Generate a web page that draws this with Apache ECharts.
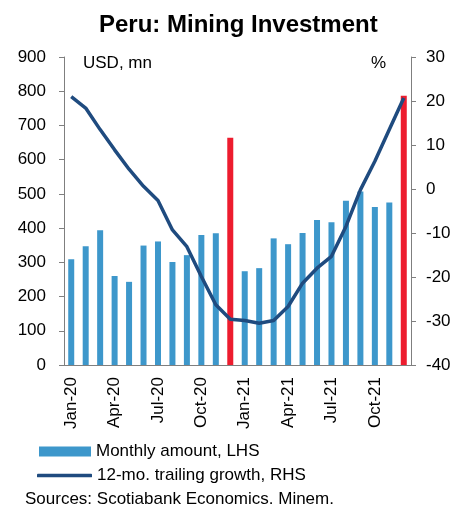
<!DOCTYPE html>
<html>
<head>
<meta charset="utf-8">
<style>
  html, body { margin: 0; padding: 0; background: #fff; }
  #chart { width: 456px; height: 506px; }
</style>
<script src="https://cdn.jsdelivr.net/npm/echarts@6/dist/echarts.min.js"></script>
</head>
<body>
<div id="chart"></div>
<script>
const months = ['Jan-20', 'Feb-20', 'Mar-20', 'Apr-20', 'May-20', 'Jun-20', 'Jul-20', 'Aug-20', 'Sep-20', 'Oct-20', 'Nov-20', 'Dec-20',
  'Jan-21', 'Feb-21', 'Mar-21', 'Apr-21', 'May-21', 'Jun-21', 'Jul-21', 'Aug-21', 'Sep-21', 'Oct-21', 'Nov-21', 'Dec-21']
const amount = [309, 347, 394, 260, 243, 349, 361, 301, 321, 380, 385, 664,
  274, 283, 370, 353, 386, 424, 417, 480, 507, 462, 475, 787]
const growth = [21.0, 18.4, 13.5, 8.9, 4.5, 0.6, -2.6, -9.3, -13.1, -19.9, -26.3, -29.6,
  -29.9, -30.5, -29.9, -26.7, -21.4, -18.0, -15.3, -8.5, -0.2, 6.3, 13.5, 20.7]
const highlight = ['Dec-20', 'Dec-21']

const font = 'Liberation Sans, Arial, sans-serif'
const blue = '#3d97cb'
const red = '#ed1c2e'
const navy = '#1f4b7f'
const axisGray = '#7f7f7f'

const chart = echarts.init(document.getElementById('chart'))

const legendText = { fontSize: 17, color: '#000', fontFamily: font }

chart.setOption({
  animation: false,
  textStyle: { fontFamily: font },
  title: {
    text: 'Peru: Mining Investment',
    left: 99,
    top: 13,
    padding: 0,
    textStyle: { fontSize: 24, fontWeight: 'bold', color: '#000', fontFamily: font }
  },
  grid: { left: 64, right: 45, top: 57, bottom: 141 },
  legend: [
    {
      left: 39,
      top: 443,
      itemWidth: 52,
      itemHeight: 10,
      padding: 0,
      textStyle: legendText,
      data: [{ name: 'Monthly amount, LHS', icon: 'rect', itemStyle: { color: blue } }]
    },
    {
      left: 37,
      top: 467,
      itemWidth: 55,
      itemHeight: 3.5,
      padding: 0,
      textStyle: legendText,
      data: [{ name: '12-mo. trailing growth, RHS', icon: 'roundRect', itemStyle: { color: navy } }]
    }
  ],
  graphic: [
    { type: 'text', left: 83, top: 55, style: { text: 'USD, mn', fontSize: 17, fill: '#000', fontFamily: font } },
    { type: 'text', left: 371, top: 55, style: { text: '%', fontSize: 17, fill: '#000', fontFamily: font } },
    { type: 'text', left: 25, top: 491, style: { text: 'Sources: Scotiabank Economics. Minem.', fontSize: 17, fill: '#000', fontFamily: font } }
  ],
  xAxis: {
    type: 'category',
    data: months,
    axisLine: { lineStyle: { color: axisGray, width: 1 } },
    axisTick: { interval: 2, length: 5, lineStyle: { color: axisGray } },
    axisLabel: { interval: 2, rotate: 90, fontSize: 17, color: '#000', margin: 12, fontFamily: font }
  },
  yAxis: [
    {
      type: 'value',
      min: 0,
      max: 900,
      interval: 100,
      splitLine: { show: false },
      axisLine: { show: true, lineStyle: { color: axisGray } },
      axisTick: { show: true, length: 5, lineStyle: { color: axisGray } },
      axisLabel: { fontSize: 17, color: '#000', margin: 18, fontFamily: font }
    },
    {
      type: 'value',
      min: -40,
      max: 30,
      interval: 10,
      splitLine: { show: false },
      axisLine: { show: true, lineStyle: { color: axisGray } },
      axisTick: { show: true, length: 5, lineStyle: { color: axisGray } },
      axisLabel: { fontSize: 17, color: '#000', margin: 15, fontFamily: font }
    }
  ],
  series: [
    {
      name: 'Monthly amount, LHS',
      type: 'bar',
      barWidth: 6,
      itemStyle: { color: blue },
      data: amount.map((v, i) => highlight.includes(months[i])
        ? { value: v, itemStyle: { color: red } }
        : v)
    },
    {
      name: '12-mo. trailing growth, RHS',
      type: 'line',
      yAxisIndex: 1,
      symbol: 'none',
      lineStyle: { color: navy, width: 3.5 },
      itemStyle: { color: navy },
      data: growth
    }
  ]
})
</script>
</body>
</html>
